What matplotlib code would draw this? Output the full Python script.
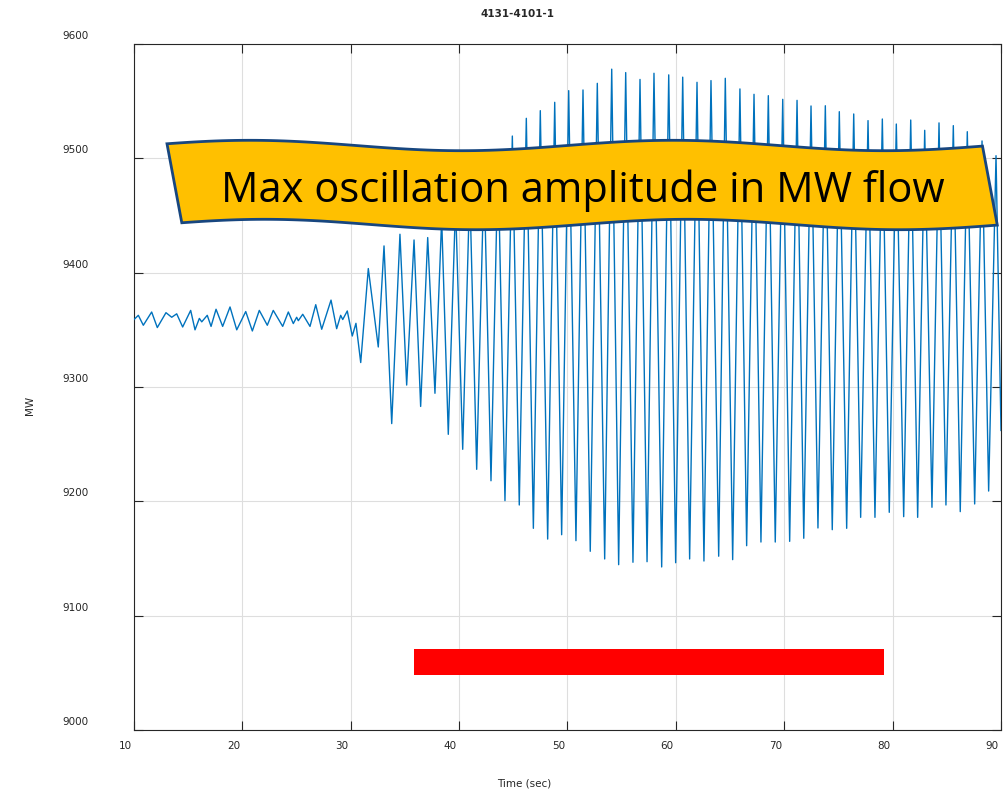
import numpy as np
import matplotlib
matplotlib.use("Agg")
import matplotlib.pyplot as plt
from matplotlib.patches import Polygon, Rectangle
from matplotlib.transforms import ScaledTranslation

# extrema of the MW flow trace (time in sec, MW)
time_sec = [10.0, 10.40, 10.86, 11.63, 12.15, 12.95, 13.48, 13.94, 14.49, 15.23,
            15.63, 16.03, 16.25, 16.76, 17.11, 17.57, 18.18, 18.86, 19.48, 20.31,
            20.92, 21.56, 22.30, 22.85, 23.72, 24.24, 24.70, 25.01, 25.16, 25.57,
            26.24, 26.77, 27.32, 28.18, 28.70, 29.07, 29.26, 29.68, 30.14, 30.48,
            30.92, 31.62, 32.54, 33.07, 33.78, 34.54, 35.16, 35.84, 36.45, 37.10,
            37.77, 38.39, 39.00, 39.67, 40.33, 40.98, 41.62, 42.30, 42.94, 43.59,
            44.23, 44.91, 45.55, 46.20, 46.85, 47.49, 48.17, 48.82, 49.46, 50.11,
            50.78, 51.43, 52.10, 52.75, 53.43, 54.08, 54.72, 55.37, 56.04, 56.69,
            57.34, 57.98, 58.69, 59.34, 59.98, 60.63, 61.27, 61.95, 62.59, 63.24,
            63.95, 64.56, 65.24, 65.91, 66.53, 67.21, 67.85, 68.53, 69.17, 69.86,
            70.50, 71.18, 71.80, 72.47, 73.11, 73.79, 74.43, 75.08, 75.76, 76.41,
            77.05, 77.73, 78.37, 79.05, 79.69, 80.34, 81.02, 81.67, 82.31, 82.96,
            83.63, 84.28, 84.92, 85.60, 86.24, 86.89, 87.57, 88.25, 88.86, 89.54,
            90.0]
mw_flow = [9359, 9362.7, 9354, 9365.6, 9352, 9365, 9361, 9364, 9352.5, 9367,
           9350, 9360, 9357, 9362.7, 9353, 9368, 9353, 9370, 9350, 9366,
           9349, 9367, 9354, 9367, 9353, 9365.6, 9355.5, 9361, 9358, 9363.6,
           9353, 9372, 9350.5, 9376, 9351, 9362.7, 9359, 9366.5, 9344.6, 9355.7,
           9321.4, 9403.6, 9335, 9423.4, 9268, 9433.6, 9301.7, 9428.6, 9283, 9430.7,
           9294.5, 9447, 9258.6, 9460, 9245.5, 9475, 9228, 9488, 9218, 9500,
           9200.6, 9519.5, 9196.8, 9535, 9176.4, 9541.7, 9167, 9549, 9170.8, 9559.2,
           9165.6, 9559.8, 9156.3, 9565.6, 9149.6, 9578, 9144.6, 9575, 9146.7, 9569,
           9147.2, 9574.4, 9142.6, 9573, 9146.3, 9571, 9149.6, 9566.5, 9147.8, 9568,
           9152, 9570, 9149, 9560.7, 9161.2, 9556, 9164.4, 9554.8, 9164.4, 9551.6,
           9165, 9550.7, 9167.7, 9545.8, 9176.7, 9546, 9175.2, 9540.8, 9176.4, 9538.8,
           9186, 9533, 9186, 9534.4, 9190.4, 9530, 9186.6, 9533.5, 9186, 9524.5,
           9194.8, 9531, 9196.8, 9528.6, 9191, 9523.3, 9197.7, 9515.2, 9209, 9502.3,
           9262]

x_ticks = [10, 20, 30, 40, 50, 60, 70, 80, 90]
y_ticks = [9000, 9100, 9200, 9300, 9400, 9500, 9600]

# red marker bar (sec, MW)
bar_start, bar_end = 35.84, 79.2
bar_low, bar_high = 9048, 9071

W, H = 1004, 791
fig = plt.figure(figsize=(W / 100, H / 100), dpi=100)
ax = fig.add_axes([134 / W, 1 - 730 / H, 867 / W, 686 / H])

ax.plot(time_sec, mw_flow, color="#0072BD", lw=1.0, zorder=3)
ax.add_patch(Rectangle((bar_start, bar_low), bar_end - bar_start, bar_high - bar_low,
                       facecolor="#FF0000", edgecolor="none", zorder=4))

ax.set_xlim(10, 90)
ax.set_ylim(9000, 9600)
ax.set_xticks(x_ticks)
ax.set_yticks(y_ticks)
ax.grid(True, color="#dedede", lw=0.8)
ax.set_axisbelow(True)
for s in ax.spines.values():
    s.set_color("#262626")
    s.set_linewidth(0.8)
ax.tick_params(direction="in", length=6.5, width=0.8, color="#262626",
               top=True, right=True, labelsize=7.5, labelcolor="#262626")
ax.tick_params(axis="y", pad=33)
ax.tick_params(axis="x", pad=8)

# MATLAB export shifted the tick labels a bit
for lab in ax.get_xticklabels():
    lab.set_transform(lab.get_transform() + ScaledTranslation(-0.09, 0, fig.dpi_scale_trans))
for lab in ax.get_yticklabels():
    lab.set_transform(lab.get_transform() + ScaledTranslation(0, 0.09, fig.dpi_scale_trans))

fig.text(518 / W, 1 - 14 / H, "4131-4101-1", ha="center", va="center",
         fontsize=7.5, fontweight="bold", color="#262626")
fig.text(524 / W, 1 - 783 / H, "Time (sec)", ha="center", va="center",
         fontsize=7.5, color="#262626")
fig.text(30 / W, 1 - 405 / H, "MW", ha="center", va="center", rotation=90,
         fontsize=7.5, color="#262626")

# wave shaped banner (pixel coords)
xs = np.linspace(167, 982.5, 120)
top = 145.5 - 5.2 * np.cos(2 * np.pi * (xs - 250) / 423)
xb = xs[::-1] + 14.8
bot = 145.5 - 5.2 * np.cos(2 * np.pi * (xb - 14.8 - 250) / 423) + 79
px = np.concatenate([xs, xb])
py = np.concatenate([top, bot])
banner = Polygon(np.column_stack([px / W, 1 - py / H]), closed=True,
                 transform=fig.transFigure, facecolor="#FFC000",
                 edgecolor="#17467F", lw=2.0, zorder=5)
fig.add_artist(banner)
fig.text(583 / W, 1 - 201.7 / H, "Max oscillation amplitude in MW flow",
         ha="center", va="baseline", fontsize=30, family="Open Sans",
         color="black", zorder=6)

fig.savefig("out.png", dpi=100)
